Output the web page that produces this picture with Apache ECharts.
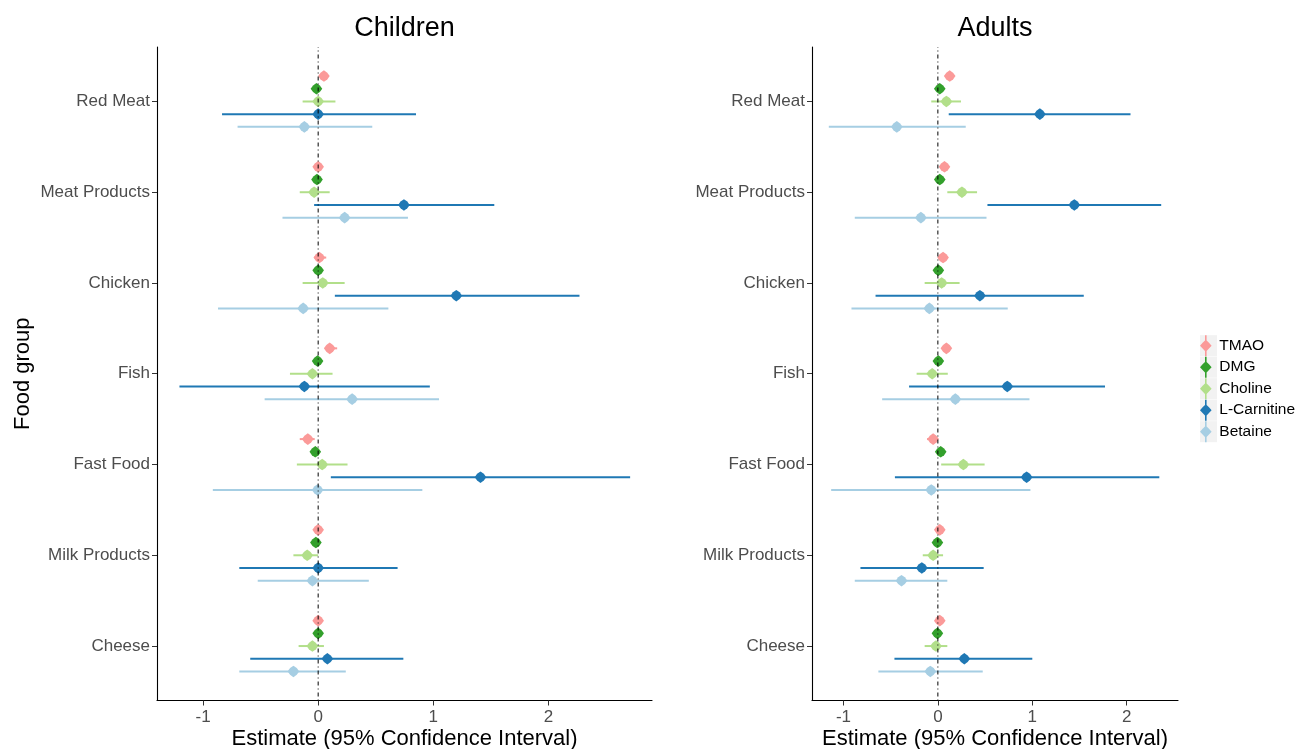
<!DOCTYPE html>
<html>
<head>
<meta charset="utf-8">
<script src="https://cdn.jsdelivr.net/npm/echarts@6/dist/echarts.min.js"></script>
<style>
html,body{margin:0;padding:0;background:#fff;}
#chart{width:1301px;height:749px;}
</style>
</head>
<body>
<div id="chart"></div>
<script>
// Food groups, top to bottom
const categories = ['Red Meat', 'Meat Products', 'Chicken', 'Fish', 'Fast Food', 'Milk Products', 'Cheese'];
const metabolites = ['TMAO', 'DMG', 'Choline', 'L-Carnitine', 'Betaine'];
const xTicks = [-1, 0, 1, 2];

// [estimate, lower 95% CI, upper 95% CI] per food group
const children_TMAO = [[0.05,0.02,0.08],[0.00,-0.025,0.025],[0.01,-0.035,0.07],[0.10,0.06,0.165],[-0.09,-0.16,-0.03],[0.00,-0.025,0.025],[0.00,-0.025,0.025]];
const children_DMG = [[-0.015,-0.04,0.01],[-0.01,-0.035,0.015],[0.00,-0.025,0.025],[-0.005,-0.03,0.02],[-0.025,-0.05,0.00],[-0.02,-0.045,0.005],[0.00,-0.025,0.025]];
const children_Choline = [[0.00,-0.135,0.15],[-0.035,-0.16,0.10],[0.04,-0.135,0.23],[-0.05,-0.245,0.125],[0.035,-0.185,0.255],[-0.095,-0.215,0.00],[-0.05,-0.17,0.05]];
const children_LCarnitine = [[0.00,-0.835,0.85],[0.745,-0.035,1.53],[1.20,0.145,2.27],[-0.12,-1.205,0.97],[1.41,0.11,2.71],[0.00,-0.685,0.69],[0.08,-0.59,0.74]];
const children_Betaine = [[-0.12,-0.70,0.47],[0.23,-0.31,0.78],[-0.13,-0.87,0.61],[0.295,-0.465,1.05],[-0.005,-0.915,0.905],[-0.05,-0.525,0.44],[-0.215,-0.685,0.24]];

const adults_TMAO = [[0.125,0.09,0.16],[0.07,0.035,0.105],[0.055,0.02,0.09],[0.09,0.055,0.125],[-0.05,-0.115,0.00],[0.02,-0.01,0.05],[0.02,-0.01,0.05]];
const adults_DMG = [[0.02,-0.005,0.045],[0.02,-0.005,0.045],[0.005,-0.02,0.03],[0.005,-0.02,0.03],[0.03,0.00,0.06],[-0.005,-0.03,0.02],[-0.005,-0.03,0.02]];
const adults_Choline = [[0.09,-0.07,0.245],[0.255,0.10,0.415],[0.04,-0.14,0.23],[-0.06,-0.225,0.105],[0.27,0.035,0.495],[-0.05,-0.16,0.055],[-0.02,-0.14,0.10]];
const adults_LCarnitine = [[1.08,0.115,2.04],[1.445,0.525,2.365],[0.445,-0.66,1.545],[0.735,-0.305,1.77],[0.94,-0.455,2.345],[-0.17,-0.82,0.485],[0.28,-0.46,1.00]];
const adults_Betaine = [[-0.435,-1.155,0.295],[-0.18,-0.88,0.515],[-0.09,-0.915,0.74],[0.185,-0.59,0.97],[-0.07,-1.13,0.98],[-0.385,-0.88,0.10],[-0.08,-0.63,0.475]];

const childrenData = [children_TMAO, children_DMG, children_Choline, children_LCarnitine, children_Betaine];
const adultsData = [adults_TMAO, adults_DMG, adults_Choline, adults_LCarnitine, adults_Betaine];

const colors = ['#FB9A99', '#33A02C', '#B2DF8A', '#1F78B4', '#A6CEE3'];
const dodge = [0.28, 0.14, 0, -0.14, -0.28];
const FONT = "'Liberation Sans', Arial, sans-serif";
const nCat = categories.length;

function markerPoints(cx, cy, r) {
  const a = r * 0.58;
  return [[cx, cy - r], [cx + a, cy - a], [cx + r, cy], [cx + a, cy + a],
          [cx, cy + r], [cx - a, cy + a], [cx - r, cy], [cx - a, cy - a]];
}

function renderItem(params, api) {
  const y = api.value(3);
  const p = api.coord([api.value(0), y]);
  const l = api.coord([api.value(1), y]);
  const h = api.coord([api.value(2), y]);
  const color = api.visual('color');
  return {
    type: 'group',
    children: [
      {type: 'line', shape: {x1: l[0], y1: l[1], x2: h[0], y2: h[1]}, style: {stroke: color, lineWidth: 2}},
      {type: 'polygon', shape: {points: markerPoints(p[0], p[1], 5.8)}, style: {fill: color}}
    ]
  };
}

function makeSeries(panelData, axisIndex) {
  const out = [];
  panelData.forEach(function (arr, k) {
    out.push({
      name: metabolites[k],
      type: 'custom',
      xAxisIndex: axisIndex,
      yAxisIndex: axisIndex,
      itemStyle: {color: colors[k]},
      renderItem: renderItem,
      encode: {x: [0, 1, 2], y: 3},
      data: arr.map(function (d, i) { return [d[0], d[1], d[2], (nCat - i) + dodge[k]]; }),
      z: 2
    });
  });
  out.push({
    type: 'line',
    xAxisIndex: axisIndex,
    yAxisIndex: axisIndex,
    data: [[0, 0.4], [0, nCat + 0.6]],
    symbol: 'none',
    silent: true,
    lineStyle: {color: '#000', width: 1, type: [1, 3, 4, 3]},
    z: 5
  });
  return out;
}

function xAxis(gridIndex, min, max) {
  return {
    type: 'value', gridIndex: gridIndex, min: min, max: max,
    name: 'Estimate (95% Confidence Interval)', nameLocation: 'middle', nameGap: 27,
    nameMoveOverlap: false,
    nameTextStyle: {fontSize: 22, color: '#000', fontFamily: FONT},
    axisLine: {show: true, onZero: false, lineStyle: {color: '#000', width: 1.1}},
    axisTick: {show: true, length: 5, lineStyle: {color: '#333'}, customValues: xTicks},
    axisLabel: {fontSize: 17, color: '#4D4D4D', margin: 8, fontFamily: FONT, customValues: xTicks},
    splitLine: {show: false}
  };
}

function yAxis(gridIndex, showName) {
  return {
    type: 'value', gridIndex: gridIndex, min: 0.4, max: nCat + 0.6,
    name: showName ? 'Food group' : '', nameLocation: 'middle', nameGap: 123,
    nameMoveOverlap: false,
    nameTextStyle: {fontSize: 22, color: '#000', fontFamily: FONT},
    axisLine: {show: true, onZero: false, lineStyle: {color: '#000', width: 1.1}},
    axisTick: {show: true, length: 5, lineStyle: {color: '#333'}, customValues: [1, 2, 3, 4, 5, 6, 7]},
    axisLabel: {
      fontSize: 17, color: '#4D4D4D', margin: 7, fontFamily: FONT,
      customValues: [1, 2, 3, 4, 5, 6, 7],
      formatter: function (v) { return categories[nCat - Math.round(v)]; }
    },
    splitLine: {show: false}
  };
}

const legendIcon = 'path://M7.7,0 L9.3,0 L9.3,5.2 L11.7,7.6 L14.3,10.5 L11.7,13.4 L9.3,15.8 L9.3,21 L7.7,21 L7.7,15.8 L5.3,13.4 L2.7,10.5 L5.3,7.6 L7.7,5.2 Z';

const chart = echarts.init(document.getElementById('chart'), null, {renderer: 'canvas'});
chart.setOption({
  backgroundColor: '#fff',
  animation: false,
  title: [
    {text: 'Children', left: 404.5, top: 15, textAlign: 'center', padding: 0,
     textStyle: {fontSize: 27, fontWeight: 'normal', color: '#000', fontFamily: FONT}},
    {text: 'Adults', left: 995, top: 15, textAlign: 'center', padding: 0,
     textStyle: {fontSize: 27, fontWeight: 'normal', color: '#000', fontFamily: FONT}}
  ],
  graphic: metabolites.map(function (m, k) {
    return {type: 'rect', left: 1200, top: 335.2 + k * 21.5, shape: {width: 17, height: 21}, style: {fill: '#F2F2F2'}, silent: true};
  }),
  legend: {
    orient: 'vertical', left: 1200, top: 335.2, padding: 0,
    itemWidth: 17, itemHeight: 21, itemGap: 0.5,
    textStyle: {fontSize: 15.5, color: '#000', fontFamily: FONT},
    data: metabolites.map(function (m) { return {name: m, icon: legendIcon}; }),
    selectedMode: false
  },
  grid: [
    {left: 157, top: 47, width: 495, height: 653.5, containLabel: false, outerBoundsMode: 'none'},
    {left: 812, top: 47, width: 366, height: 653.5, containLabel: false, outerBoundsMode: 'none'}
  ],
  xAxis: [xAxis(0, -1.40, 2.90), xAxis(1, -1.333, 2.543)],
  yAxis: [yAxis(0, true), yAxis(1, false)],
  series: makeSeries(childrenData, 0).concat(makeSeries(adultsData, 1))
});
</script>
</body>
</html>
